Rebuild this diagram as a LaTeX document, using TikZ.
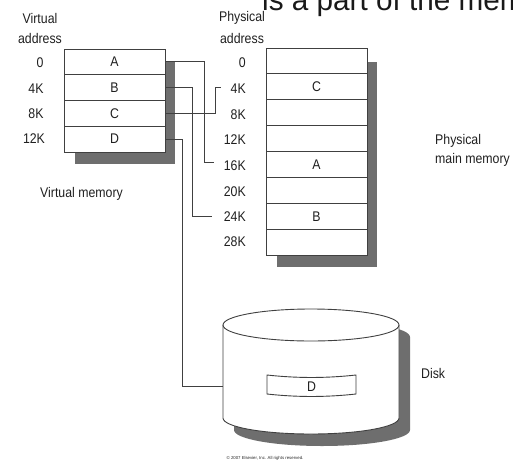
\documentclass[tikz,border=0pt]{standalone}
\usepackage{fontspec}
\setmainfont{Liberation Sans}
\newfontfamily\labelfont{Liberation Sans}[FakeStretch=0.88]
\begin{document}
\begin{tikzpicture}[x=1pt,y=-1pt,
  txt/.style={text=black!88, font=\labelfont\fontsize{14}{16}\selectfont, inner sep=0pt},
  vrow/.style={draw=black!75, line width=0.9pt, fill=white, minimum width=101pt, minimum height=25.75pt, inner sep=0pt, text=black!88, font=\labelfont\fontsize{14}{16}\selectfont},
  prow/.style={draw=black!75, line width=0.9pt, fill=white, minimum width=101pt, minimum height=25.875pt, inner sep=0pt, text=black!88, font=\labelfont\fontsize{14}{16}\selectfont},
  shadowfill/.style={fill=black!57, draw=none},
  conn/.style={draw=black!75, line width=0.9pt}]
\useasboundingbox (0,0) rectangle (513,460);
\begin{scope}
\clip (0,0) rectangle (513,460);
\node[anchor=base west, inner sep=0pt, font=\fontsize{29.7}{31}\selectfont, text=black!90] (title) at (262,11) {is a part of the memory};
\end{scope}
% virtual memory
\fill[shadowfill] (75,62) rectangle (175,164);
\node[vrow] (va) at (114.5,61.875) {A};
\node[vrow] (vb) at (114.5,87.625) {B};
\node[vrow] (vc) at (114.5,113.375) {C};
\node[vrow] (vd) at (114.5,139.125) {D};
\node[txt] (vh1) at (40,18) {Virtual};
\node[txt] (vh2) at (40,38) {address};
\node[txt] (v0) at (40,63) {0};
\node[txt] (v4) at (36,89) {4K};
\node[txt] (v8) at (36,114) {8K};
\node[txt] (v12) at (34,139) {12K};
\node[txt, anchor=west] (vm) at (40,194) {Virtual memory};
% physical memory
\fill[shadowfill] (277,62) rectangle (377,267);
\node[prow] (p0) at (316.5,60.94) {};
\node[prow] (p1) at (316.5,86.81) {C};
\node[prow] (p2) at (316.5,112.69) {};
\node[prow] (p3) at (316.5,138.56) {};
\node[prow] (p4) at (316.5,164.44) {A};
\node[prow] (p5) at (316.5,190.31) {};
\node[prow] (p6) at (316.5,216.19) {B};
\node[prow] (p7) at (316.5,242.06) {};
\node[txt] (ph1) at (242,18) {Physical};
\node[txt] (ph2) at (242,38) {address};
\node[txt, anchor=east] (l0) at (246,63) {0};
\node[txt, anchor=east] (l4) at (246,89) {4K};
\node[txt, anchor=east] (l8) at (246,115) {8K};
\node[txt, anchor=east] (l12) at (246,140) {12K};
\node[txt, anchor=east] (l16) at (246,166) {16K};
\node[txt, anchor=east] (l20) at (246,192) {20K};
\node[txt, anchor=east] (l24) at (246,217) {24K};
\node[txt, anchor=east] (l28) at (246,242) {28K};
\node[txt, anchor=west] (pm1) at (435,141) {Physical};
\node[txt, anchor=west] (pm2) at (435,160) {main memory};
% disk
\fill[shadowfill] (234,337) -- (234,430) arc (180:360:88pt and 16pt) -- (410,337) arc (0:180:88pt and 16pt) -- cycle;
\filldraw[fill=white, draw=black!75, line width=0.9pt] (223,325) -- (223,418) arc (180:360:88pt and 16pt) -- (399,325) arc (0:180:88pt and 16pt) -- cycle;
\draw[draw=black!75, line width=0.9pt] (223,325) arc (180:360:88pt and 16pt);
\draw[draw=black!75, line width=0.9pt] (267,375) .. controls (297,378.3) and (326,378.3) .. (356,375) -- (356,394) .. controls (326,397.3) and (297,397.3) .. (267,394) -- cycle;
\node[txt] (dn) at (311.5,386.5) {D};
\coordinate (diskL) at (223,386);
\node[txt, anchor=west] (disk) at (421,373) {Disk};
% connectors
\coordinate (a16) at (204,162);
\coordinate (e16) at (214,162);
\coordinate (b24) at (192,216);
\coordinate (e24) at (212,216);
\coordinate (c4) at (215,87);
\coordinate (e4) at (221,87);
\coordinate (dk) at (182,386);
\draw[conn] (va.east) -| (a16) -- (e16);
\draw[conn] (vb.east) -| (b24) -- (e24);
\draw[conn] (vc.east) -| (c4) -- (e4);
\draw[conn] (vd.east) -| (dk) -- (diskL);
\node[inner sep=0pt, font=\fontsize{4.3}{5}\selectfont, text=black!85] (copy) at (265,458) {© 2007 Elsevier, Inc. All rights reserved.};
\end{tikzpicture}
\end{document}
